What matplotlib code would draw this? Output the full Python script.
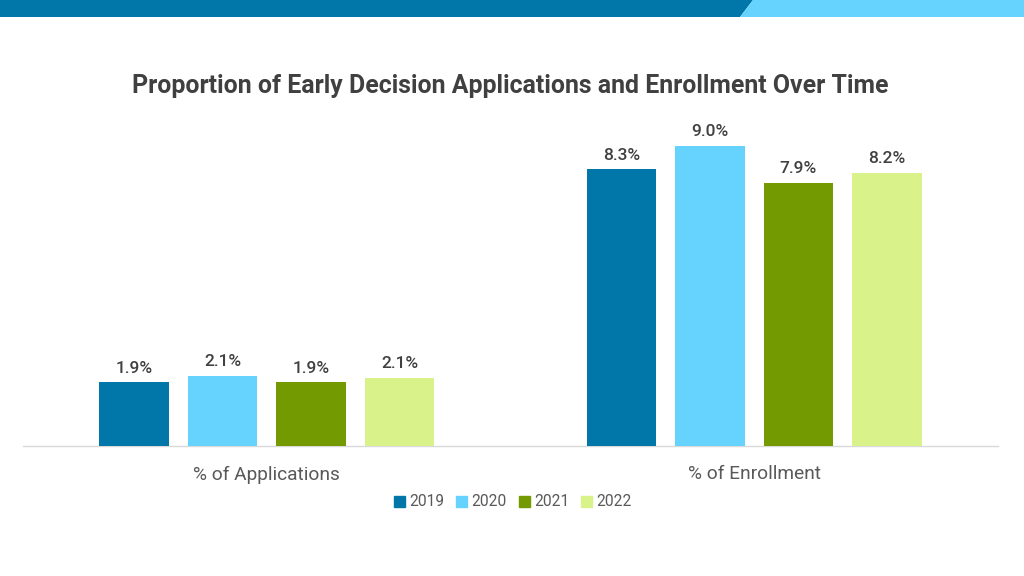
import matplotlib
matplotlib.use("Agg")
import matplotlib.pyplot as plt
import numpy as np
from matplotlib.patches import Polygon, Rectangle

categories = ["% of Applications", "% of Enrollment"]
years = ["2019", "2020", "2021", "2022"]
values = {
    "2019": [1.91, 8.3],
    "2020": [2.11, 9.0],
    "2021": [1.91, 7.9],
    "2022": [2.05, 8.2],
}
labels = {
    "2019": ["1.9%", "8.3%"],
    "2020": ["2.1%", "9.0%"],
    "2021": ["1.9%", "7.9%"],
    "2022": ["2.1%", "8.2%"],
}
colors = ["#0077A8", "#66D3FF", "#739A00", "#D9F28A"]

plt.rcParams['font.family'] = ['Roboto', 'DejaVu Sans']

fig = plt.figure(figsize=(10.24, 5.76), dpi=100)
fig.patch.set_facecolor("white")

# top banner
W, H = 1024, 576
def fx(px): return px / W
def fy(py): return 1 - py / H
fig.patches.append(Polygon([(fx(0), fy(0)), (fx(753), fy(0)), (fx(740), fy(17)), (fx(0), fy(17))],
                           closed=True, transform=fig.transFigure, facecolor="#0077A8", edgecolor="none"))
fig.patches.append(Polygon([(fx(753), fy(0)), (fx(1024), fy(0)), (fx(1024), fy(17)), (fx(740), fy(17))],
                           closed=True, transform=fig.transFigure, facecolor="#66D3FF", edgecolor="none"))

ax = fig.add_axes([23 / W, 130 / H, 975 / W, 333.3 / H])
x = np.arange(len(categories))
width = 0.1426
pitch = 0.1815
for i, yr in enumerate(years):
    offs = (i - 1.5) * pitch
    bars = ax.bar(x + offs, values[yr], width, color=colors[i], label=yr, zorder=3)
    for b, lab in zip(bars, labels[yr]):
        ax.text(b.get_x() + b.get_width() / 2, b.get_height() + 0.2, lab,
                ha="center", va="bottom", fontsize=12.5, fontweight="medium", color="#404040")

ax.set_xlim(-0.5, 1.5)
ax.set_ylim(0, 10)
ax.set_xticks(x)
ax.set_xticklabels(categories, fontsize=13.8, color="#595959")
ax.tick_params(axis="x", length=0, pad=14)
ax.set_yticks([])
for s in ["top", "right", "left"]:
    ax.spines[s].set_visible(False)
ax.spines["bottom"].set_color("#D9D9D9")
ax.spines["bottom"].set_linewidth(1)

fig.text(510 / W, fy(86), "Proportion of Early Decision Applications and Enrollment Over Time",
         ha="center", va="center", fontsize=17.9, fontweight="bold", color="#404040")

handles = [Rectangle((0, 0), 1, 1, color=c) for c in colors]
fig.legend(handles, years, loc="center", bbox_to_anchor=(513 / W, fy(502)), ncol=4,
           frameon=False, fontsize=11.2, labelcolor="#595959", handlelength=0.7, handleheight=0.7,
           handletextpad=0.3, columnspacing=0.75)

fig.savefig("out.png", dpi=100, facecolor="white")
